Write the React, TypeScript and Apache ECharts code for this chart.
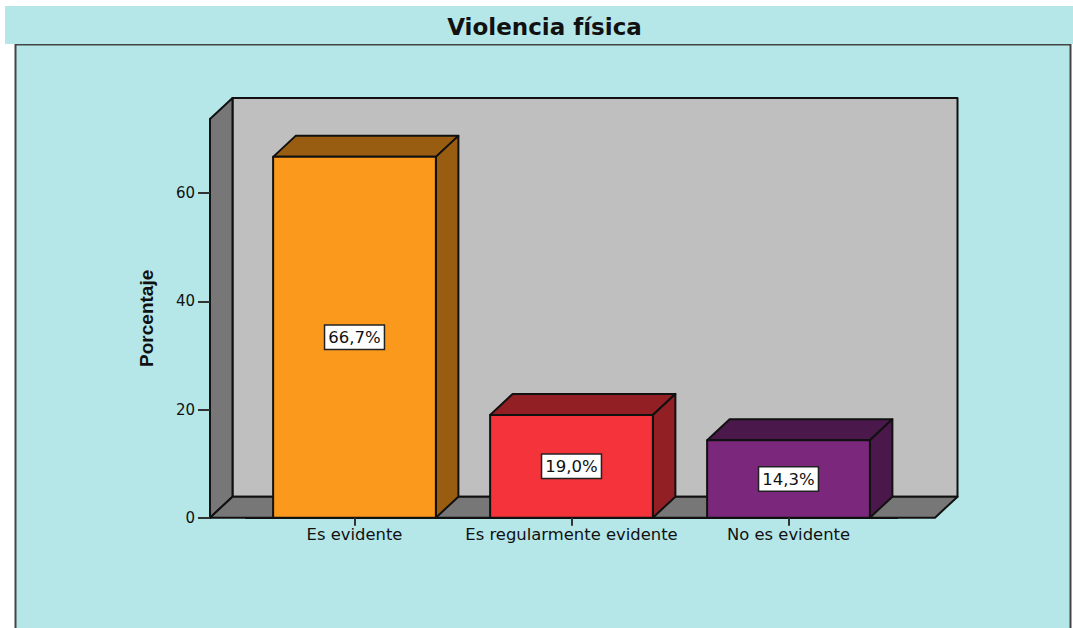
import React, { useEffect, useRef } from "react";
import * as echarts from "echarts";

const titleText = "Violencia física";
const yAxisName = "Porcentaje";
const categories = ["Es evidente", "Es regularmente evidente", "No es evidente"];
const percentages = [66.7, 19.0, 14.3];
const yTicks = [0, 20, 40, 60];
const yMax = 73.7;

const frontColors = ["#FB991C", "#F4333A", "#7B287C"];
const shadeColors = ["#985D11", "#911F23", "#4B184B"];
const panelColor = "#B5E7E8";
const wallColor = "#BFBFBF";
const sideWallColor = "#777777";
const inkColor = "#111111";

const depthX = 22.5;
const depthY = -21;
const axisOverhangLeft = 36;
const axisOverhangRight = 38;

const edge = { stroke: inkColor, lineWidth: 2, lineJoin: "round" as const };

function poly(points: number[][], fill: string) {
  return { type: "polygon", shape: { points }, style: { fill, ...edge } };
}

function renderRoom(params: any, api: any) {
  const cs = params.coordSys;
  const y0 = api.coord([0, 0])[1];
  const y1 = api.coord([0, yMax])[1];
  const l = cs.x - axisOverhangLeft;
  const r = cs.x + cs.width + axisOverhangRight;
  return {
    type: "group",
    children: [
      poly(
        [
          [l + depthX, y1 + depthY],
          [r + depthX, y1 + depthY],
          [r + depthX, y0 + depthY],
          [l + depthX, y0 + depthY],
        ],
        wallColor
      ),
      poly(
        [
          [l, y1],
          [l + depthX, y1 + depthY],
          [l + depthX, y0 + depthY],
          [l, y0],
        ],
        sideWallColor
      ),
      poly(
        [
          [l, y0],
          [l + depthX, y0 + depthY],
          [r + depthX, y0 + depthY],
          [r, y0],
        ],
        sideWallColor
      ),
    ],
  };
}

function renderBar(params: any, api: any) {
  const i = api.value(0);
  const v = api.value(1);
  const [cx, top] = api.coord([i, v]);
  const base = api.coord([i, 0])[1];
  const w = api.size([1, 0])[0] * 0.75;
  const l = cx - w / 2;
  const r = cx + w / 2;
  const shade = shadeColors[i];
  return {
    type: "group",
    children: [
      poly(
        [
          [l, top],
          [l + depthX, top + depthY],
          [r + depthX, top + depthY],
          [r, top],
        ],
        shade
      ),
      poly(
        [
          [r, top],
          [r + depthX, top + depthY],
          [r + depthX, base + depthY],
          [r, base],
        ],
        shade
      ),
      poly(
        [
          [l, top],
          [r, top],
          [r, base],
          [l, base],
        ],
        frontColors[i]
      ),
      {
        type: "text",
        x: cx,
        y: (top + base) / 2,
        style: {
          text: v.toFixed(1).replace(".", ",") + "%",
          align: "center",
          verticalAlign: "middle",
          font: '16.5px "DejaVu Sans"',
          fill: inkColor,
          backgroundColor: "#FFFFFF",
          borderColor: "#222222",
          borderWidth: 1.5,
          padding: [3, 3, 3, 3],
        },
      },
    ],
  };
}

export default function App() {
  const ref = useRef<HTMLDivElement>(null);

  useEffect(() => {
    const chart = echarts.init(ref.current!, undefined, { renderer: "svg" });
    chart.setOption({
      animation: false,
      backgroundColor: "#FFFFFF",
      graphic: {
        elements: [
          {
            type: "rect",
            z: -1,
            shape: { x: 15.5, y: 44.5, width: 1055, height: 620 },
            style: { fill: panelColor, stroke: "#444444", lineWidth: 2 },
          },
          {
            type: "rect",
            z: -1,
            shape: { x: 5, y: 6, width: 1068, height: 38 },
            style: { fill: panelColor },
          },
        ],
      },
      title: {
        text: titleText,
        left: 544.5,
        top: 15,
        padding: 0,
        textAlign: "center",
        textStyle: {
          fontFamily: "DejaVu Sans",
          fontWeight: "bold",
          fontSize: 23,
          color: inkColor,
        },
      },
      grid: { left: 246, top: 119, width: 651, height: 398.7 },
      xAxis: {
        type: "category",
        z: 5,
        data: categories,
        axisLine: { lineStyle: { color: inkColor, width: 2 } },
        axisTick: {
          show: true,
          alignWithLabel: true,
          length: 8,
          lineStyle: { color: "#333333", width: 2 },
        },
        axisLabel: {
          interval: 0,
          margin: 9,
          fontFamily: "DejaVu Sans",
          fontSize: 16.4,
          color: inkColor,
        },
      },
      yAxis: {
        type: "value",
        z: 5,
        min: 0,
        max: yMax,
        interval: 20,
        offset: axisOverhangLeft,
        name: yAxisName,
        nameLocation: "middle",
        nameGap: 54,
        nameRotate: 90,
        nameTextStyle: {
          fontFamily: "Liberation Sans",
          fontWeight: "bold",
          fontSize: 19,
          color: inkColor,
        },
        splitLine: { show: false },
        axisLine: { show: true, lineStyle: { color: inkColor, width: 2 } },
        axisTick: {
          show: true,
          length: 12,
          customValues: yTicks,
          lineStyle: { color: "#333333", width: 2 },
        },
        axisLabel: {
          margin: 15,
          customValues: yTicks,
          fontFamily: "DejaVu Sans",
          fontSize: 15,
          color: inkColor,
        },
      },
      series: [
        {
          type: "custom",
          silent: true,
          z: 2,
          renderItem: renderRoom,
          data: [[0, 0]],
          encode: { x: 0, y: 1 },
        },
        {
          type: "custom",
          z: 3,
          renderItem: renderBar,
          data: percentages.map((v, i) => [i, v]),
          encode: { x: 0, y: 1 },
        },
      ],
    });
    return () => chart.dispose();
  }, []);

  return (
    <div
      ref={ref}
      style={{ position: "fixed", left: 0, top: 0, width: 1073, height: 628 }}
    />
  );
}
